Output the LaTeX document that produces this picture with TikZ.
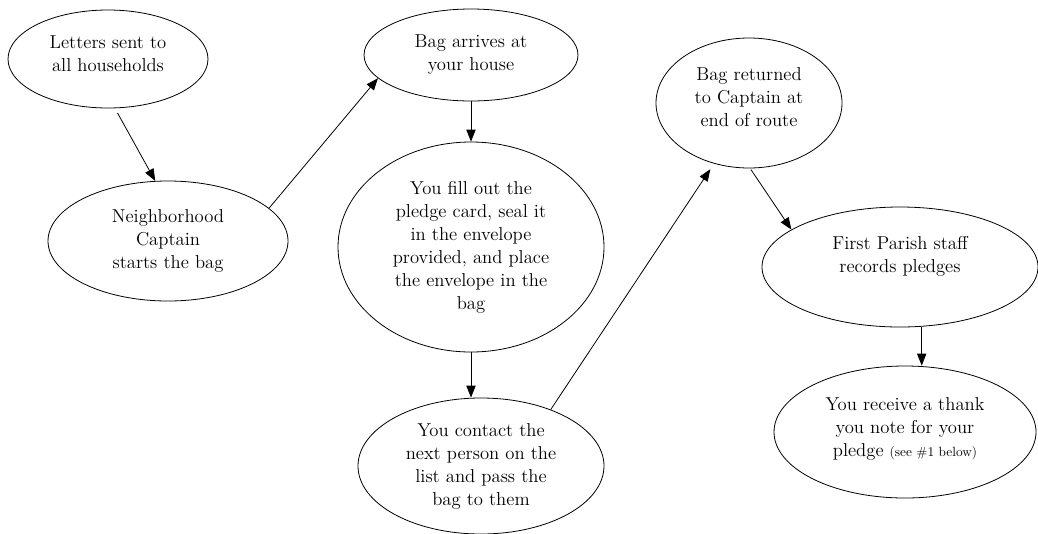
\documentclass[tikz,border=0pt]{standalone}
\usetikzlibrary{shapes.geometric,arrows.meta}
% extra depth under the last line pulls the text above the centre
\newcommand{\dn}[1]{\rule[-#1]{0pt}{0pt}}

\begin{document}
\begin{tikzpicture}[x=0.75pt,y=-0.75pt,->,>={Triangle[length=9pt,width=7pt]},line width=0.6pt]
\tikzset{bubble/.style={shape=ellipse,draw=black,align=center,inner sep=0pt,font=\fontsize{14}{17.25}\selectfont}}
\useasboundingbox (0,0) rectangle (1038,533);
                \node[bubble,minimum width=150pt,minimum height=73.5pt](letters)at(108, 59){Letters sent to\\all households\dn{8pt}};
                \node[bubble,minimum width=180pt,minimum height=90pt](captain)at(168, 241){Neighborhood\\Captain\\starts the bag};
                \node[bubble,minimum width=160.5pt,minimum height=69pt](arrives)at(471, 55){Bag arrives at\\your house\dn{4pt}};
                \node[bubble,minimum width=199.5pt,minimum height=157.5pt](fill)at(471, 247){You fill out the\\pledge card, seal it\\in the envelope\\provided, and place\\the envelope in the\\bag};
                \node[bubble,minimum width=184.5pt,minimum height=102pt](contact)at(481, 466){You contact the\\next person on the\\list and pass the\\bag to them};
                \node[bubble,minimum width=139.5pt,minimum height=97.5pt](returned)at(749, 103){Bag returned\\to Captain at\\end of route\dn{9pt}};
                \node[bubble,minimum width=207pt,minimum height=90pt](parish)at(900, 267){First Parish staff\\records pledges\dn{19pt}};
                \node[bubble,minimum width=196.5pt,minimum height=99pt](thanks)at(905, 432){You receive a thank\\you note for your\\pledge {\fontsize{10}{12}\selectfont(see \#1 below)}\dn{7pt}};
                \path[](letters.-82) edge[shorten <=4pt] (captain.102)
                (captain.18) edge (arrives.194)
                (arrives.south) edge (fill.north)
                (fill.south) edge (fill.south |- contact.north)
                (contact.39) edge[shorten >=5pt] (returned.240)
                (returned.-89) edge[shorten <=1pt] (parish.161)
                (parish.-70) edge (parish.-70 |- thanks.north);
            \end{tikzpicture}
\end{document}
